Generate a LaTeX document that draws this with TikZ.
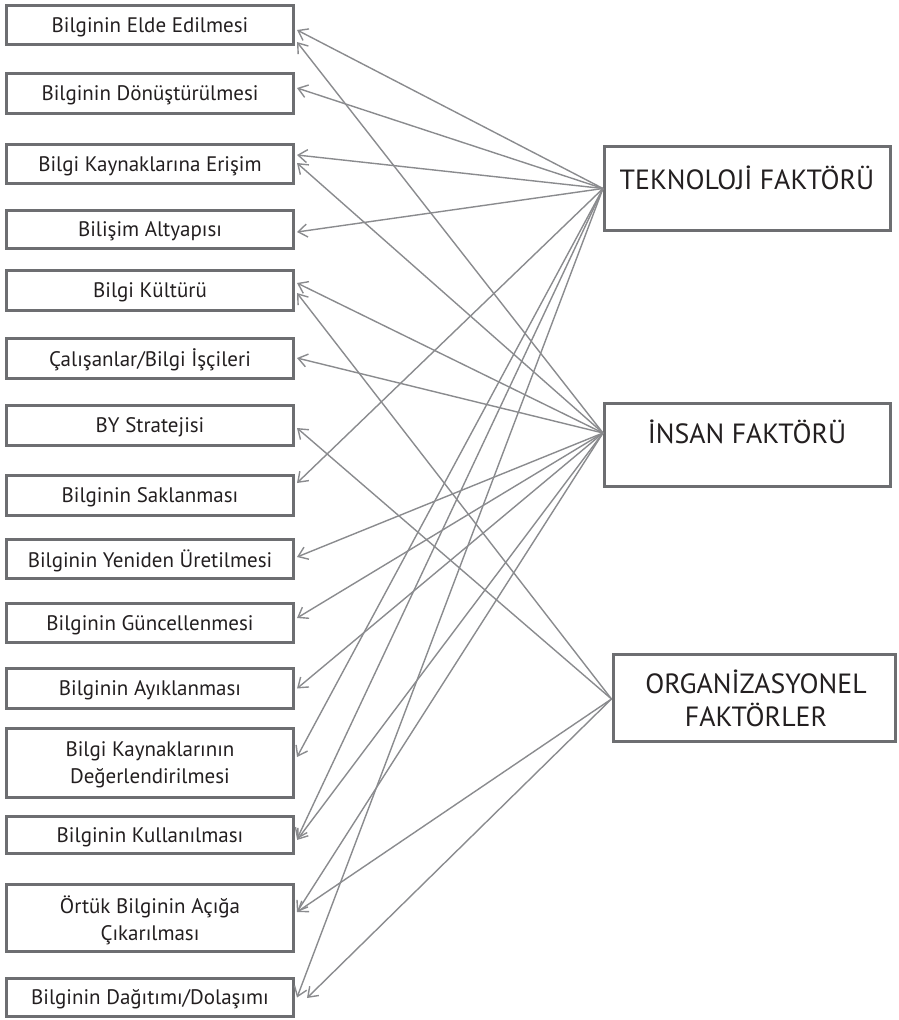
\documentclass[tikz,border=0pt]{standalone}
\usepackage{fontspec}
\setmainfont{PT Sans}
\usetikzlibrary{arrows.meta,calc}
\definecolor{boxgray}{HTML}{6D6E71}
\definecolor{linkgray}{HTML}{8A8B8E}
\definecolor{ink}{HTML}{231F20}
\tikzset{
  item/.style={draw=boxgray, line width=3pt, fill=white, minimum width=287pt,
    inner sep=0pt, align=center, text=ink, font=\fontsize{21}{27}\selectfont,
    text depth=0.05em},
  factor/.style={draw=boxgray, line width=3pt, fill=white, inner sep=0pt},
  ftext/.style={text=ink, align=center, font=\fontsize{27.8}{33}\selectfont},
  link/.style={draw=linkgray, line width=1.4pt, -{Straight Barb[length=9pt,width=13pt]}}
}
\begin{document}
\begin{tikzpicture}[x=1pt,y=-1pt]
\useasboundingbox (0,0) rectangle (899,1020);

% process boxes on the left
\node[item, minimum height=39pt] (b1)  at (150,25)    {Bilginin Elde Edilmesi};
\node[item, minimum height=40pt] (b2)  at (150,93.5)  {Bilginin Dönüştürülmesi};
\node[item, minimum height=39pt] (b3)  at (150,164)   {Bilgi Kaynaklarına Erişim};
\node[item, minimum height=38pt] (b4)  at (150,229.5) {Bilişim Altyapısı};
\node[item, minimum height=40pt] (b5)  at (150,290.5) {Bilgi Kültürü};
\node[item, minimum height=40pt] (b6)  at (150,358)   {Çalışanlar/Bilgi İşçileri};
\node[item, minimum height=40pt] (b7)  at (150,425.5) {BY Stratejisi};
\node[item, minimum height=40pt] (b8)  at (150,495.5) {Bilginin Saklanması};
\node[item, minimum height=39pt] (b9)  at (150,559)   {Bilginin Yeniden Üretilmesi};
\node[item, minimum height=39pt] (b10) at (150,623)   {Bilginin Güncellenmesi};
\node[item, minimum height=40pt] (b11) at (150,688.5) {Bilginin Ayıklanması};
\node[item, minimum height=69pt] (b12) at (150,763)   {Bilgi Kaynaklarının\\Değerlendirilmesi};
\node[item, minimum height=37pt] (b13) at (150,835)   {Bilginin Kullanılması};
\node[item, minimum height=67pt] (b14) at (150,918)   {Örtük Bilginin Açığa\\Çıkarılması};
\node[item, minimum height=38pt] (b15) at (150,997.5) {Bilginin Dağıtımı/Dolaşımı};

% factor boxes on the right
\node[factor, minimum width=286pt, minimum height=84pt] (T) at (747.5,188.5) {};
\node[ftext] at (747,178) {TEKNOLOJİ FAKTÖRÜ};
\node[factor, minimum width=286pt, minimum height=83pt] (I) at (747.5,445) {};
\node[ftext] at (747,432) {İNSAN FAKTÖRÜ};
\node[factor, minimum width=282pt, minimum height=87pt] (O) at (754,698) {};
\node[ftext] at (756,698) {ORGANİZASYONEL\\FAKTÖRLER};

% common start points of the connectors
\coordinate (Tp) at (T.west);
\coordinate (Ip) at ($(I.west)+(0,-12)$);
\coordinate (Op) at ($(O.west)+(0,1)$);

% technology factor
\draw[link] (Tp) -- ($(b1.east)+(2,5)$);
\draw[link] (Tp) -- ($(b2.east)+(2,-5.5)$);
\draw[link] (Tp) -- ($(b3.east)+(2,-9)$);
\draw[link] (Tp) -- ($(b4.east)+(2,2.5)$);
\draw[link] (Tp) -- ($(b8.east)+(2,-12.5)$);
\draw[link] (Tp) -- ($(b12.east)+(2,-6)$);
\draw[link] (Tp) -- ($(b13.east)+(2,4)$);
\draw[link] (Tp) -- ($(b15.east)+(2,0)$);

% human factor
\draw[link] (Ip) -- ($(b1.east)+(2,17)$);
\draw[link] (Ip) -- ($(b3.east)+(2,-1)$);
\draw[link] (Ip) -- ($(b5.east)+(2,-7.5)$);
\draw[link] (Ip) -- ($(b6.east)+(2,0)$);
\draw[link] (Ip) -- ($(b9.east)+(2,-2)$);
\draw[link] (Ip) -- ($(b10.east)+(2,-5)$);
\draw[link] (Ip) -- ($(b11.east)+(2,0)$);
\draw[link] (Ip) -- ($(b13.east)+(2,5)$);
\draw[link] (Ip) -- ($(b14.east)+(2,-6)$);

% organisational factors
\draw[link] (Op) -- ($(b5.east)+(2,2.5)$);
\draw[link] (Op) -- ($(b7.east)+(2,2.5)$);
\draw[link] (Op) -- ($(b14.east)+(2,-6)$);
\draw[link] (Op) -- ($(b15.east)+(12,0.5)$);
\end{tikzpicture}
\end{document}
